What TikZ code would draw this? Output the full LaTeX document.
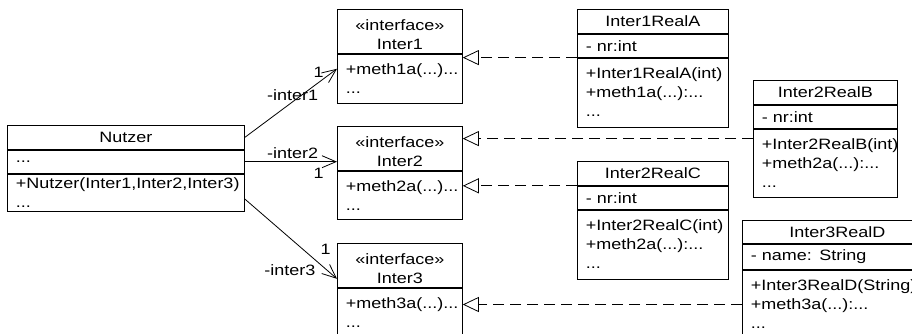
\documentclass[tikz,border=0pt]{standalone}
\usepackage{fontspec}
\setmainfont{Liberation Sans}[FakeStretch=1.2]
\usetikzlibrary{arrows.meta}
\newcommand\umlsize{\fontsize{15}{19}\selectfont}

\begin{document}
\begin{tikzpicture}[
  x=1pt, y=-1pt,
  box/.style={draw,line width=.8pt,anchor=north west,inner xsep=8.5pt,inner ysep=0pt,font=\umlsize},
  head/.style={box,align=center,text width=#1},
  part/.style={box,align=left,text width=#1},
  assoc/.style={-{Straight Barb[length=14pt,width=12pt]},line width=.8pt},
  realize/.style={-{Triangle[open,length=16pt,width=15pt]},dash pattern=on 11pt off 6pt,line width=.8pt},
  mult/.style={font=\umlsize,inner sep=1pt}
]
  \path[use as bounding box,clip] (0,0) rectangle (912,333);

  % client class
  \node[head=220pt,minimum height=24pt] (nutzer) at (7,125) {Nutzer};
  \node[part=220pt,minimum height=23pt] (nutzer-a) at (nutzer.south west) {...};
  \node[part=220pt,minimum height=37pt] (nutzer-m) at (nutzer-a.south west) {+Nutzer(Inter1,Inter2,Inter3)\\...};

  % interfaces
  \node[head=108pt,minimum height=44pt] (inter1) at (337,9) {\rule{0pt}{18pt}«interface»\\Inter1};
  \node[part=108pt,minimum height=49pt] (inter1-m) at (inter1.south west) {+meth1a(...)...\\...};
  \node[head=108pt,minimum height=44pt] (inter2) at (337,126) {\rule{0pt}{18pt}«interface»\\Inter2};
  \node[part=108pt,minimum height=48pt] (inter2-m) at (inter2.south west) {+meth2a(...)...\\...};
  \node[head=108pt,minimum height=44pt] (inter3) at (337,243) {\rule{0pt}{18pt}«interface»\\Inter3};
  \node[part=108pt,minimum height=49pt] (inter3-m) at (inter3.south west) {+meth3a(...)...\\...};

  % implementations
  \node[head=134pt,minimum height=24pt] (realA) at (577,9) {Inter1RealA};
  \node[part=134pt,minimum height=23pt] (realA-a) at (realA.south west) {- nr:int};
  \node[part=134pt,minimum height=69pt] (realA-m) at (realA-a.south west) {+Inter1RealA(int)\\+meth1a(...):...\\...};

  \node[head=127pt,minimum height=24pt] (realB) at (753,80) {Inter2RealB};
  \node[part=127pt,minimum height=23pt] (realB-a) at (realB.south west) {- nr:int};
  \node[part=127pt,minimum height=68pt] (realB-m) at (realB-a.south west) {+Inter2RealB(int)\\+meth2a(...):...\\...};

  \node[head=134pt,minimum height=24pt] (realC) at (577,161) {Inter2RealC};
  \node[part=134pt,minimum height=23pt] (realC-a) at (realC.south west) {- nr:int};
  \node[part=134pt,minimum height=69pt] (realC-m) at (realC-a.south west) {+Inter2RealC(int)\\+meth2a(...):...\\...};

  \node[head=173pt,minimum height=23pt] (realD) at (742,220) {Inter3RealD};
  \node[part=173pt,minimum height=25pt] (realD-a) at (realD.south west) {- name: String};
  \node[part=173pt,minimum height=69pt] (realD-m) at (realD-a.south west) {+Inter3RealD(String)\\+meth3a(...):...\\...};

  % associations
  \draw[assoc] (nutzer.east) -- ([yshift=-15pt]inter1-m.north west)
    node[mult,pos=.52,yshift=7pt] {-inter1}
    node[mult,pos=.8,yshift=10pt] {1};
  \draw[assoc] (nutzer-a.east) -- (nutzer-a.east -| inter2.west)
    node[mult,pos=.52,yshift=9pt] {-inter2}
    node[mult,pos=.8,yshift=-12pt] {1};
  \draw[assoc] ([yshift=-6.5pt]nutzer-m.east) -- ([yshift=9pt]inter3.south west)
    node[mult,pos=.78,anchor=east,yshift=-9pt] {-inter3}
    node[mult,pos=.8,xshift=7pt,yshift=14pt] {1};

  % realizations
  \draw[realize] (realA-m.north west) -- (realA-m.north west -| inter1.east);
  \draw[realize] ([yshift=-10pt]realB-m.north west) -- ([yshift=-10pt]realB-m.north west -| inter2.east);
  \draw[realize] (realC-a.north west) -- (realC-a.north west -| inter2.east);
  \draw[realize] (realD-m.west) -- (realD-m.west -| inter3.east);
\end{tikzpicture}
\end{document}
